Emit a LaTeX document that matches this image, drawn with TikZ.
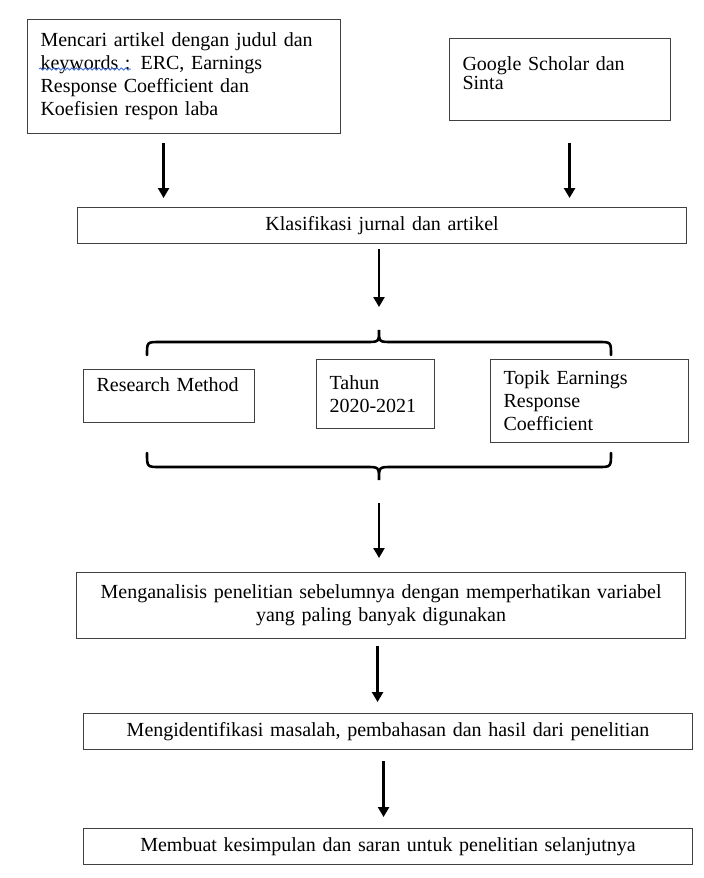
\documentclass[tikz,border=0pt]{standalone}
\usepackage{fontspec}
\setmainfont{Liberation Serif}
\usepackage{xcolor}
\usepackage{tikz}
\usetikzlibrary{arrows.meta,positioning,calc,decorations.pathmorphing}
\definecolor{spellblue}{RGB}{66,110,215}
\tikzset{
  flowbox/.style={draw=black!75, line width=1.1pt, anchor=north west, inner xsep=13pt, inner ysep=3pt, font=\fontsize{20}{23}\selectfont},
  flowleft/.style={flowbox, align=left},
  flowcenter/.style={flowbox, align=center},
  flowarrow/.style={-{Triangle[length=10pt,width=11pt]}, line width=2.6pt},
  flowbrace/.style={line width=2.6pt, line cap=round},
  spellwave/.style={spellblue, line width=0.8pt, decorate, decoration={snake, amplitude=1.1pt, segment length=4.5pt}}
}

\begin{document}
\begin{tikzpicture}[x=1pt,y=-1pt]
\useasboundingbox (0,0) rectangle (704,878);
\node[flowleft, minimum width=313pt, minimum height=114pt, text width=287pt] (search) at (27,19) {Mencari artikel dengan judul dan\\keywords : ERC, Earnings\\Response Coefficient dan\\Koefisien respon laba};
\node[flowleft, minimum width=221pt, minimum height=82pt, text width=195pt] (source) at (449,38) {Google Scholar dan\\[-4pt]Sinta\\[-10pt]\mbox{}};
\node[flowcenter, minimum width=609pt, minimum height=36pt, text width=583pt] (klasifikasi) at (77,207) {Klasifikasi jurnal dan artikel};
\node[flowleft, minimum width=171pt, minimum height=53pt, text width=145pt] (method) at (83,369) {Research Method\\\mbox{}};
\node[flowleft, minimum width=118pt, minimum height=69pt, text width=92pt] (tahun) at (316,359) {Tahun\\2020-2021};
\node[flowleft, minimum width=198pt, minimum height=83pt, text width=172pt] (topik) at (490,359) {Topik Earnings\\Response\\Coefficient};
\node[flowcenter, minimum width=609pt, minimum height=66pt, text width=583pt] (analisis) at (76,572) {Menganalisis penelitian sebelumnya dengan memperhatikan variabel\\yang paling banyak digunakan};
\node[flowcenter, minimum width=609pt, minimum height=36pt, text width=583pt] (identifikasi) at (83,713) {Mengidentifikasi masalah, pembahasan dan hasil dari penelitian};
\node[flowcenter, minimum width=609pt, minimum height=36pt, text width=583pt] (kesimpulan) at (83,828) {Membuat kesimpulan dan saran untuk penelitian selanjutnya};
% spell-check wave under "keywords :"
\draw[spellwave] ($(search.north west)+(12,50)$) -- ($(search.north west)+(104,50)$);
\coordinate (bracetop) at (379,330);
\coordinate (bracebottom) at (379,480);
% braces round the three criteria
\draw[flowbrace] (147,355) .. controls (147,342) .. (160,342) -- (366,342) .. controls (379,342) .. (bracetop) .. controls (379,342) .. (392,342) -- (598,342) .. controls (611,342) .. (611,355);
\draw[flowbrace] (147,453) .. controls (147,467) .. (160,467) -- (366,467) .. controls (379,467) .. (bracebottom) .. controls (379,467) .. (392,467) -- (598,467) .. controls (611,467) .. (611,453);
\draw[flowarrow, shorten <=9pt, shorten >=9pt] ([xshift=-20.5pt]search.south) -- ([xshift=-20.5pt]search.south |- klasifikasi.north);
\draw[flowarrow, shorten <=22pt, shorten >=9pt] ([xshift=9.5pt]source.south) -- ([xshift=9.5pt]source.south |- klasifikasi.north);
\draw[flowarrow, shorten <=5pt, shorten >=23pt] (klasifikasi.south -| bracetop) -- (bracetop);
\draw[flowarrow, shorten <=23pt, shorten >=14pt] (bracebottom) -- (bracebottom |- analisis.north);
\draw[flowarrow, shorten <=7pt, shorten >=11pt] ([xshift=-3.5pt]analisis.south) -- ([xshift=-3.5pt]analisis.south |- identifikasi.north);
\draw[flowarrow, shorten <=11pt, shorten >=11pt] ([xshift=-4.5pt]identifikasi.south) -- ([xshift=-4.5pt]identifikasi.south |- kesimpulan.north);
\end{tikzpicture}
\end{document}
